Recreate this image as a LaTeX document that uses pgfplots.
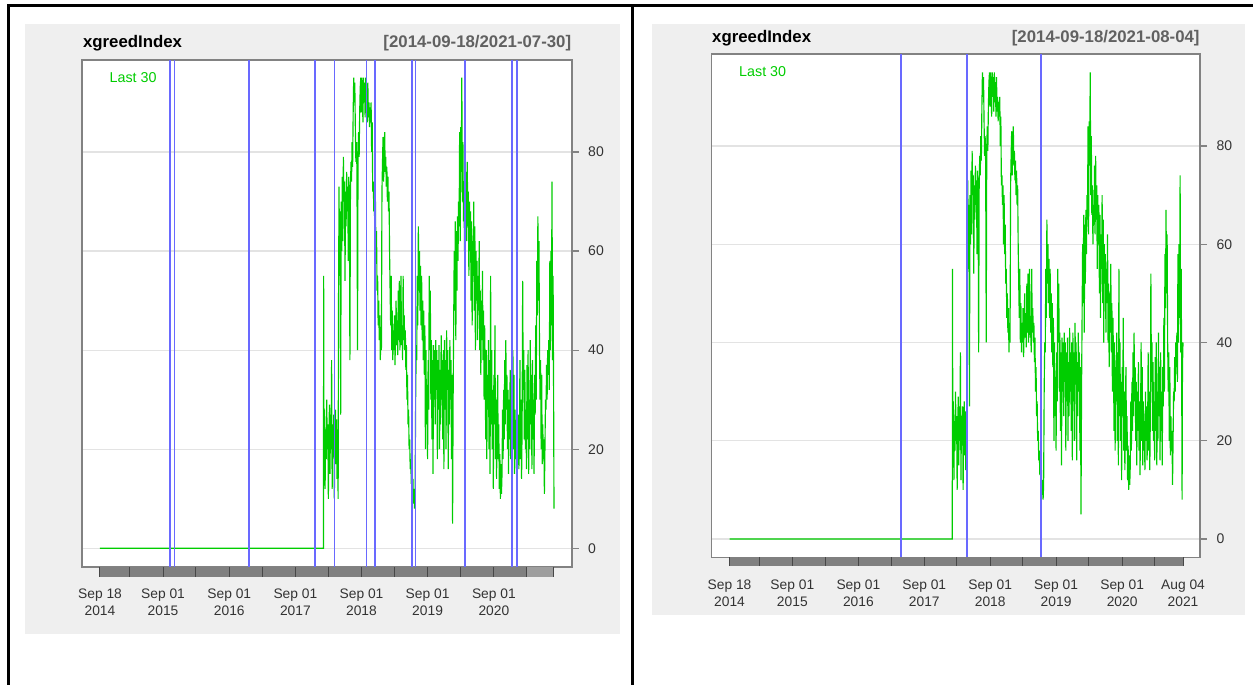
\documentclass[border=0pt]{standalone}
\usepackage{pgfplots}
\pgfplotsset{compat=1.18}
\usepackage{pgfplotstable}
\usepackage{fontspec}
\setmainfont{Liberation Sans}
\definecolor{grn}{HTML}{00CD00}
\definecolor{bl}{RGB}{105,105,255}
\definecolor{bg}{HTML}{EFEFEF}
\definecolor{frm}{HTML}{828282}
\definecolor{grd}{HTML}{E3E3E3}

\pgfplotstableread{
x y
0 0
1234 0
1235 55
1237 20
1240 28
1243 12
1246 24
1249 18
1252 30
1255 20
1258 25
1261 10
1264 22
1267 29
1270 15
1273 27
1276 20
1279 38
1282 12
1285 25
1288 19
1291 27
1294 10
1297 23
1300 28
1303 17
1306 26
1309 14
1312 24
1315 10
1317 48
1320 73
1323 55
1326 68
1329 27
1332 70
1335 60
1338 75
1341 62
1344 79
1347 70
1350 74
1353 54
1356 72
1359 65
1362 76
1365 68
1368 73
1371 58
1374 75
1377 70
1380 38
1383 72
1386 78
1389 74
1392 82
1395 77
1398 88
1401 95
1404 90
1407 94
1410 85
1413 78
1416 82
1419 76
1422 40
1425 80
1428 84
1431 79
1434 88
1437 93
1440 95
1443 88
1446 95
1449 91
1452 86
1455 95
1458 90
1461 94
1464 87
1467 95
1470 89
1473 93
1476 86
1479 94
1482 87
1485 90
1488 85
1491 89
1494 86
1497 90
1500 80
1503 86
1506 72
1509 74
1512 68
1515 72
1518 60
1521 70
1524 58
1527 64
1530 52
1533 55
1536 45
1539 50
1542 42
1545 47
1548 38
1551 44
1554 40
1557 72
1560 78
1563 83
1566 74
1569 80
1572 84
1575 76
1578 79
1581 73
1584 77
1587 70
1590 75
1593 68
1596 72
1599 60
1602 52
1605 45
1608 55
1611 40
1614 48
1617 38
1620 44
1623 40
1626 47
1629 37
1632 43
1635 50
1638 41
1641 46
1644 39
1647 52
1650 42
1653 54
1656 40
1659 48
1662 55
1665 41
1668 45
1671 38
1674 55
1677 42
1680 47
1683 40
1686 44
1689 36
1692 41
1695 30
1698 35
1701 25
1704 28
1707 20
1710 22
1713 16
1716 18
1719 13
1722 15
1725 11
1728 14
1731 9
1734 12
1737 8
1740 11
1743 30
1746 40
1749 38
1752 55
1755 45
1758 65
1761 52
1764 60
1767 48
1770 57
1773 45
1776 55
1779 42
1782 50
1785 38
1788 48
1791 35
1794 45
1797 20
1800 40
1803 25
1806 33
1809 18
1812 38
1815 28
1818 55
1821 40
1824 52
1827 30
1830 42
1833 22
1836 38
1839 15
1842 41
1845 30
1848 40
1851 25
1854 42
1857 32
1860 40
1863 18
1866 38
1869 28
1872 41
1875 20
1878 36
1881 25
1884 43
1887 30
1890 38
1893 22
1896 40
1899 16
1902 42
1905 28
1908 38
1911 20
1914 44
1917 32
1920 40
1923 16
1926 36
1929 25
1932 42
1935 30
1938 38
1941 18
1944 35
1947 5
1950 30
1953 45
1956 60
1959 48
1962 66
1965 42
1968 64
1971 52
1974 67
1977 58
1980 70
1983 65
1986 84
1989 62
1992 85
1995 76
1998 95
2001 70
2004 82
2007 66
2010 72
2013 60
2016 68
2019 64
2022 76
2025 62
2028 78
2031 65
2034 72
2037 55
2040 70
2043 60
2046 68
2049 50
2052 66
2055 45
2058 62
2061 55
2064 70
2067 48
2070 65
2073 40
2076 60
2079 52
2082 58
2085 42
2088 55
2091 48
2094 62
2097 40
2100 52
2103 35
2106 50
2109 42
2112 56
2115 38
2118 48
2121 30
2124 45
2127 36
2130 22
2133 40
2136 18
2139 35
2142 28
2145 42
2148 20
2151 38
2154 15
2157 55
2160 25
2163 40
2166 20
2169 32
2172 12
2175 35
2178 25
2181 45
2184 18
2187 30
2190 14
2193 28
2196 35
2199 18
2202 25
2205 12
2208 19
2211 10
2214 17
2217 11
2220 15
2223 28
2226 18
2229 32
2232 22
2235 38
2238 25
2241 42
2244 28
2247 35
2250 20
2253 32
2256 15
2259 30
2262 22
2265 36
2268 18
2271 28
2274 13
2277 25
2280 40
2283 20
2286 35
2289 15
2292 28
2295 18
2298 24
2301 14
2304 30
2307 20
2310 27
2313 16
2316 22
2319 38
2322 18
2325 30
2328 14
2331 25
2334 54
2337 32
2340 40
2343 22
2346 36
2349 20
2352 28
2355 16
2358 37
2361 22
2364 40
2367 15
2370 30
2373 20
2376 42
2379 25
2382 35
2385 16
2388 38
2391 22
2394 30
2397 15
2400 35
2403 27
2406 45
2409 30
2412 58
2415 47
2418 67
2421 50
2424 62
2427 40
2430 30
2433 38
2436 20
2439 35
2442 17
2445 25
2448 18
2451 22
2454 11
2457 20
2460 30
2463 28
2466 37
2469 30
2472 40
2475 35
2478 42
2481 32
2484 58
2487 40
2490 60
2493 45
2496 74
2499 38
2502 55
2505 30
2507 8
2509 35
2512 40
}\greed

\pgfplotsset{qm/.style={
  scale only axis, clip=false,
  axis background/.style={fill=white},
  axis line style={draw=frm, line width=1.8pt},
  ytick={0,20,40,60,80},
  ytick pos=right, yticklabel pos=right,
  tick align=outside,
  major tick length=7pt,
  ytick style={draw=frm, line width=1.2pt},
  xtick style={draw=none},
  ymajorgrids, grid style={grd, line width=1.2pt},
  /pgf/number format/assume math mode=true,
  yticklabel style={font=\fontsize{14}{14}\selectfont, text=black!80, xshift=6pt},
  xticklabel style={font=\fontsize{13.8}{17.5}\selectfont, align=center, text=black!80, yshift=-11pt},
}}

\begin{document}
\begin{tikzpicture}
\useasboundingbox (0pt,0pt) rectangle (1253pt,685pt);
\fill[bg] (25pt,661pt) rectangle (620pt,51pt);
\fill[bg] (652pt,661pt) rectangle (1245pt,70pt);
\draw[line width=3pt] (8pt,0pt) -- (8pt,679pt) -- (1253pt,679pt);
\draw[line width=3pt] (632pt,679pt) -- (632pt,0pt);

% ---------- left panel ----------
\begin{axis}[qm,
  at={(81.6pt,118pt)}, anchor=south west,
  width=490.1pt, height=507pt,
  xmin=-101.6, xmax=2604.8, ymin=-3.775, ymax=98.57,
  xtick={0,348,714,1079,1444,1809,2175},
  xticklabels={{Sep 18\\2014},{Sep 01\\2015},{Sep 01\\2016},{Sep 01\\2017},{Sep 01\\2018},{Sep 01\\2019},{Sep 01\\2020}},
]
\addplot[grn, line width=1.15pt, restrict x to domain=0:2507] table[x=x,y=y] {\greed};
\pgfplotsinvokeforeach{388,412,823,1186,1296,1472,1519,1724,1742,2017,2276,2303}{
  \addplot[bl, line width=1.6pt] coordinates {(#1,-3.775) (#1,98.57)};
}
\fill[black!50] (axis cs:0,-3.775) rectangle (axis cs:2356,-5.794);
\fill[black!38] (axis cs:2356,-3.775) rectangle (axis cs:2507,-5.794);
\pgfplotsinvokeforeach{0,164,348,530,714,895,1079,1260,1444,1625,1809,1991,2175,2356,2507}{
  \draw[black!72, line width=1pt] (axis cs:#1,-3.775) -- (axis cs:#1,-5.794);
}
\end{axis}

% ---------- right panel ----------
\begin{axis}[qm,
  at={(711.5pt,127.5pt)}, anchor=south west,
  width=488.5pt, height=503.5pt,
  xmin=-99.7, xmax=2606.2, ymin=-3.766, ymax=98.73,
  xticklabel style={yshift=-1pt, font=\fontsize{13.8}{16.5}\selectfont},
  xtick={0,348,714,1079,1444,1809,2175,2512},
  xticklabels={{Sep 18\\2014},{Sep 01\\2015},{Sep 01\\2016},{Sep 01\\2017},{Sep 01\\2018},{Sep 01\\2019},{Sep 01\\2020},{Aug 04\\2021}},
]
\addplot[grn, line width=1.15pt] table[x=x,y=y] {\greed};
\pgfplotsinvokeforeach{950,1317,1727}{
  \addplot[bl, line width=1.6pt] coordinates {(#1,-3.766) (#1,98.73)};
}
\fill[black!50] (axis cs:0,-3.766) rectangle (axis cs:2512,-5.598);
\pgfplotsinvokeforeach{0,164,348,530,714,895,1079,1260,1444,1625,1809,1991,2175,2356,2512}{
  \draw[black!72, line width=1pt] (axis cs:#1,-3.766) -- (axis cs:#1,-5.598);
}
\end{axis}

% titles and labels
\node[anchor=base west, inner sep=0pt, font=\fontsize{16.8}{17}\selectfont\bfseries] at (82.9pt,637pt) {xgreedIndex};
\node[anchor=base east, inner sep=0pt, text=black!62, font=\fontsize{16.8}{17}\selectfont\bfseries] at (571.4pt,637pt) {[2014-09-18/2021-07-30]};
\node[anchor=base west, inner sep=0pt, text=grn, font=\fontsize{14.3}{15}\selectfont] at (109.4pt,602pt) {Last 30};

\node[anchor=base west, inner sep=0pt, font=\fontsize{16.8}{17}\selectfont\bfseries] at (712pt,642.6pt) {xgreedIndex};
\node[anchor=base east, inner sep=0pt, text=black!62, font=\fontsize{16.8}{17}\selectfont\bfseries] at (1199.8pt,642.6pt) {[2014-09-18/2021-08-04]};
\node[anchor=base west, inner sep=0pt, text=grn, font=\fontsize{14.3}{15}\selectfont] at (739pt,608pt) {Last 30};
\end{tikzpicture}
\end{document}
